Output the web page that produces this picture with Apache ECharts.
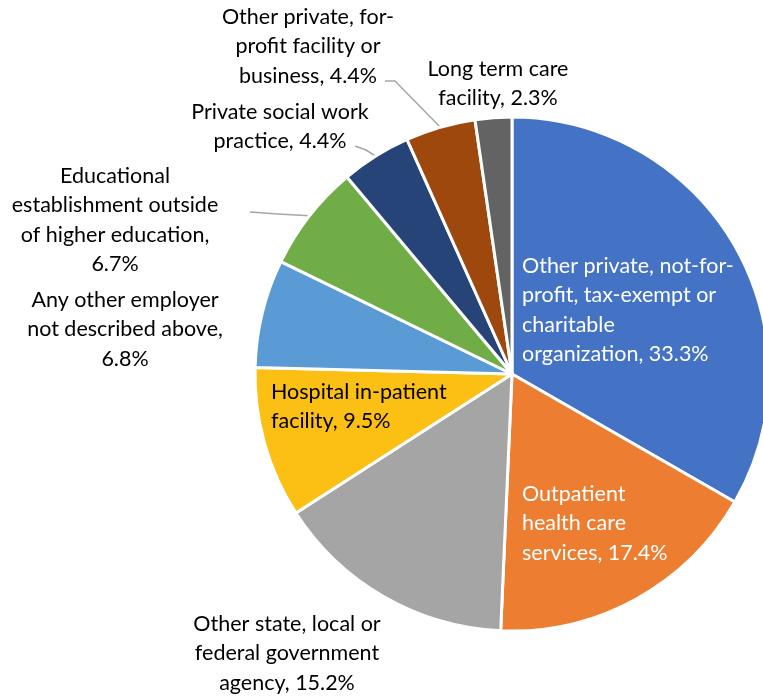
<!DOCTYPE html>
<html>
<head>
<meta charset="utf-8">
<script src="https://cdn.jsdelivr.net/npm/echarts@6/dist/echarts.min.js"></script>
<style>
  html, body { margin: 0; padding: 0; background: #fff; }
  #chart { width: 763px; height: 698px; }
</style>
</head>
<body>
<div id="chart"></div>
<script>
const categories = [
  "Other private, not-for-\nprofit, tax-exempt or\ncharitable\norganization",
  "Outpatient\nhealth care\nservices",
  "Other state, local or\nfederal government\nagency",
  "Hospital in-patient\nfacility",
  "Any other employer\nnot described above",
  "Educational\nestablishment outside\nof higher education",
  "Private social work\npractice",
  "Other private, for-\nprofit facility or\nbusiness",
  "Long term care\nfacility",
];
const shares = [33.3, 17.4, 15.2, 9.5, 6.8, 6.7, 4.4, 4.4, 2.3];
const colors = ["#4472C4", "#ED7D31", "#A5A5A5", "#FCBF14", "#5B9BD5", "#70AD47", "#264478", "#9E480E", "#636363"];
// labels whose percentage sits on its own line
const pctOwnLine = [4, 5];

// where each label block goes (anchor, alignment) and the leader-line elbows
const labelSpots = [
  { x: 522, y: 251, align: "left" },
  { x: 522, y: 479, align: "left" },
  { x: 287, y: 609, align: "center" },
  { x: 271, y: 377, align: "left" },
  { x: 125, y: 285, align: "center" },
  { x: 115, y: 161, align: "center" },
  { x: 280, y: 97, align: "center" },
  { x: 308, y: 2, align: "center" },
  { x: 498, y: 54, align: "center" },
];
const leaders = {
  5: [[278, 214], [250, 212]],
  6: [[366, 150], [355, 146]],
  7: [[395, 81], [385, 81]],
};

const chart = echarts.init(document.getElementById("chart"));

const data = categories.map((name, i) => ({
  name: name,
  value: shares[i],
  itemStyle: { color: colors[i] },
  label: { color: i < 2 ? "#ffffff" : "#000000" },
  labelLine: { show: leaders[i] !== undefined },
}));

chart.setOption({
  animation: false,
  series: [
    {
      type: "pie",
      center: [512, 374],
      radius: 257,
      startAngle: 90,
      clockwise: true,
      avoidLabelOverlap: false,
      data: data,
      itemStyle: { borderColor: "#ffffff", borderWidth: 3 },
      label: {
        show: true,
        position: "outside",
        fontFamily: "Lato",
        fontSize: 21.5,
        lineHeight: 29.5,
        formatter: (p) => {
          const sep = pctOwnLine.includes(p.dataIndex) ? ",\n" : ", ";
          return p.name + sep + p.value.toFixed(1) + "%";
        },
      },
      labelLine: {
        lineStyle: { color: "#a6a6a6", width: 1.5 },
      },
      emphasis: { disabled: true },
      labelLayout: (params) => {
        const spot = labelSpots[params.dataIndex];
        const out = {
          x: spot.x,
          y: spot.y,
          align: spot.align,
          verticalAlign: "top",
        };
        const elbows = leaders[params.dataIndex];
        if (elbows && params.labelLinePoints) {
          out.labelLinePoints = [params.labelLinePoints[0], elbows[0], elbows[1]];
        }
        return out;
      },
    },
  ],
});
</script>
</body>
</html>
